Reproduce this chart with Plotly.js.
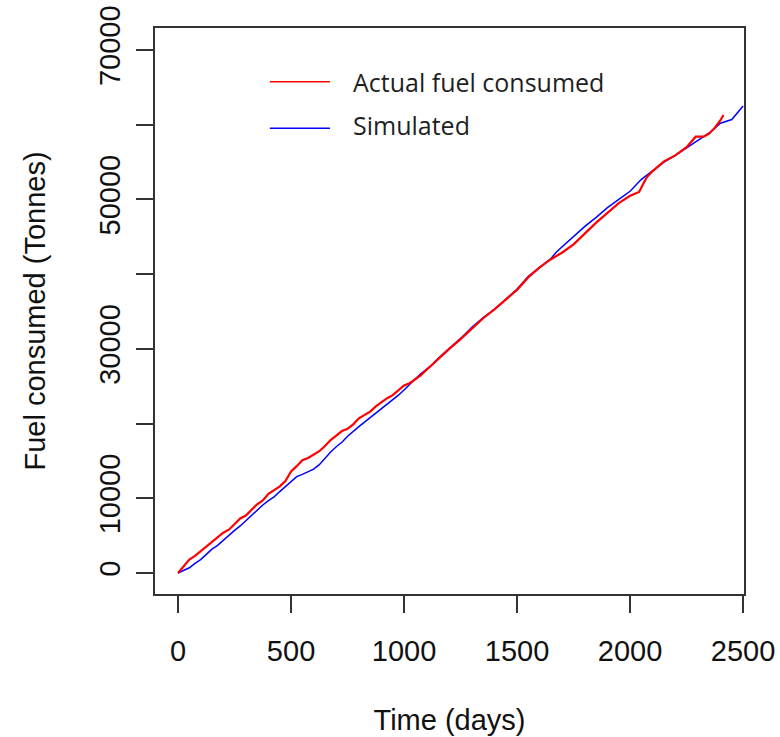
<!DOCTYPE html>
<html>
<head>
<meta charset="utf-8">
<script src="https://cdn.plot.ly/plotly-3.0.1.min.js"></script>
<style>html,body{margin:0;padding:0;background:#fff;}#chart{width:780px;height:737px;}</style>
</head>
<body>
<div id="chart"></div>
<script>
// Actual fuel consumed (tonnes) vs time (days)
const actualDays = [0,25,50,75,100,125,150,175,200,225,250,275,300,325,350,375,400,425,450,475,500,525,550,575,600,625,650,675,700,725,750,775,800,825,850,875,900,925,950,975,1000,1025,1050,1075,1100,1125,1150,1175,1200,1250,1300,1350,1400,1450,1500,1550,1600,1650,1700,1750,1800,1850,1900,1950,2000,2040,2060,2075,2100,2150,2200,2250,2290,2325,2350,2375,2400,2413];
const actualFuel = [0,900,1800,2300,2900,3600,4200,4800,5400,5800,6500,7300,7700,8400,9200,9700,10600,11100,11600,12300,13600,14300,15100,15400,15800,16300,17000,17800,18400,19000,19300,19900,20700,21200,21600,22300,22900,23400,23800,24500,25100,25400,25900,26500,27200,27900,28700,29400,30000,31300,32700,34100,35300,36600,37900,39600,40900,42000,42900,44000,45500,46900,48200,49500,50500,51000,52200,53000,53800,55100,55900,57000,58400,58400,58800,59600,60600,61300];
// Simulated fuel consumed
const simDays = [0,25,50,75,100,125,150,175,200,225,250,275,300,325,350,375,400,425,450,475,500,525,550,575,600,625,650,675,700,725,750,775,800,825,850,875,900,925,950,975,1000,1025,1050,1075,1100,1125,1150,1200,1250,1300,1350,1400,1450,1500,1550,1600,1650,1675,1700,1750,1800,1850,1900,1950,2000,2050,2100,2150,2200,2250,2300,2350,2400,2450,2500];
const simFuel = [0,300,700,1300,1800,2500,3200,3700,4400,5100,5700,6300,7000,7700,8500,9100,9700,10200,10900,11600,12300,12900,13200,13500,13900,14500,15400,16200,16900,17500,18300,19000,19600,20200,20800,21400,22000,22600,23100,23800,24500,25300,26000,26700,27300,27900,28700,30000,31400,32900,34200,35300,36700,38000,39700,40900,42100,43000,43700,45000,46400,47600,48900,50000,51100,52700,53900,55000,55900,56900,58000,58900,60200,60700,62500];

const seriesNames = ["Actual fuel consumed", "Simulated"];
const seriesColors = ["#ff0000", "#0000ff"];
const xTicks = [0,500,1000,1500,2000,2500];
const yTicks = [0,10000,20000,30000,40000,50000,60000,70000];
const yTickText = ["0","10000","","30000","","50000","","70000"];
const xTitle = "Time (days)";
const yTitle = "Fuel consumed (Tonnes)";

const axisFont = {family: "Liberation Sans, Arial, sans-serif", size: 29, color: "#111111"};
const legendFont = {family: "Open Sans, sans-serif", size: 25, color: "#1f1f1f"};

const traces = [
  {x: simDays, y: simFuel, type: "scatter", mode: "lines", name: seriesNames[1],
   line: {color: seriesColors[1], width: 1.5}, showlegend: false},
  {x: actualDays, y: actualFuel, type: "scatter", mode: "lines", name: seriesNames[0],
   line: {color: seriesColors[0], width: 2.2}, showlegend: false}
];

const legendLineY = [0.905, 0.823];
const legendTextY = [0.905, 0.829];
const shapes = [0,1].map(i => ({type: "line", xref: "paper", yref: "paper",
  x0: 0.195, x1: 0.297, y0: legendLineY[i], y1: legendLineY[i],
  line: {color: seriesColors[i], width: 1.5}}));
const annotations = [0,1].map(i => ({xref: "paper", yref: "paper", x: 0.332, y: legendTextY[i],
  xanchor: "left", yanchor: "middle", text: seriesNames[i], showarrow: false, font: legendFont}));

const layout = {
  width: 780, height: 737,
  margin: {l: 155, r: 36, t: 28, b: 143},
  paper_bgcolor: "#ffffff", plot_bgcolor: "#ffffff",
  showlegend: false,
  xaxis: {range: [-102, 2504], tickvals: xTicks, ticktext: xTicks.map(String),
    showline: true, mirror: true, linecolor: "#333", linewidth: 2,
    ticks: "outside", ticklen: 17, tickwidth: 2, tickcolor: "#333",
    showgrid: false, zeroline: false, tickfont: axisFont, ticklabelstandoff: 13,
    title: {text: xTitle, font: axisFont, standoff: 44}},
  yaxis: {range: [-2810, 72950], tickvals: yTicks, ticktext: yTickText, tickangle: -90,
    showline: true, mirror: true, linecolor: "#333", linewidth: 2,
    ticks: "outside", ticklen: 17, tickwidth: 2, tickcolor: "#333",
    showgrid: false, zeroline: false, tickfont: axisFont, ticklabelstandoff: 4,
    title: {text: yTitle, font: axisFont, standoff: 40}},
  shapes: shapes,
  annotations: annotations
};

Plotly.newPlot("chart", traces, layout, {displayModeBar: false, staticPlot: true});
</script>
</body>
</html>
